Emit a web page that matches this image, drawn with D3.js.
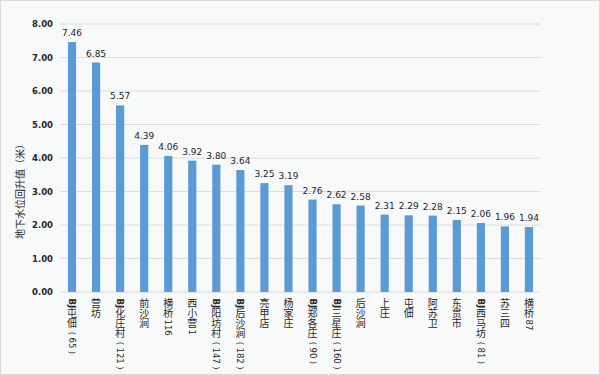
<!DOCTYPE html>
<html>
<head>
<meta charset="utf-8">
<script src="https://cdn.jsdelivr.net/npm/d3@7"></script>
<style>
  body { margin: 0; background: #fff; }
  svg { display: block; font-family: "Noto Sans CJK SC", "DejaVu Sans", sans-serif; }
</style>
</head>
<body>
<div id="chart"></div>
<script>
const sites = ["BJ屯佃（65）", "营坊", "BJ化庄村（121）", "前沙涧", "横桥116", "西小营1", "BJ阳坊村（147）", "BJ后沙涧（182）", "亮甲店", "杨家庄", "BJ郑各庄（90）", "BJ三星庄（160）", "后沙涧", "上庄", "屯佃", "阿苏卫", "东贯市", "BJ西马坊（81）", "苏三四", "横桥87"];
const rises = [7.46, 6.85, 5.57, 4.39, 4.06, 3.92, 3.80, 3.64, 3.25, 3.19, 2.76, 2.62, 2.58, 2.31, 2.29, 2.28, 2.15, 2.06, 1.96, 1.94];
const yTicks = [0, 1, 2, 3, 4, 5, 6, 7, 8];

const width = 600, height = 375;
const margin = { top: 24, right: 59, bottom: 83, left: 60 };

const svg = d3.select("#chart").append("svg")
  .attr("width", width)
  .attr("height", height);

svg.append("rect")
  .attr("x", 0.5).attr("y", 0.5)
  .attr("width", width - 1).attr("height", height - 1)
  .attr("fill", "#f8f9f9")
  .attr("stroke", "#d9d9d9");

const x = d3.scaleBand()
  .domain(sites)
  .range([margin.left, width - margin.right])
  .paddingInner(0.66)
  .paddingOuter(0.33);

const y = d3.scaleLinear()
  .domain([0, 8])
  .range([height - margin.bottom, margin.top]);

// 网格线
svg.append("g")
  .selectAll("line")
  .data(yTicks)
  .join("line")
  .attr("x1", margin.left)
  .attr("x2", width - margin.right)
  .attr("y1", d => y(d))
  .attr("y2", d => y(d))
  .attr("stroke", "#dcdcdc")
  .attr("stroke-width", 1);

// y轴刻度
const yAxis = svg.append("g")
  .attr("transform", `translate(${margin.left},0)`)
  .call(d3.axisLeft(y).tickValues(yTicks).tickFormat(d3.format(".2f")).tickSize(0).tickPadding(7));
yAxis.select(".domain").remove();
yAxis.selectAll("text")
  .attr("font-family", "'DejaVu Sans', sans-serif")
  .attr("font-size", 8.5)
  .attr("font-weight", "bold")
  .attr("fill", "#262626");

// 柱子
svg.append("g")
  .selectAll("rect")
  .data(rises)
  .join("rect")
  .attr("x", (d, i) => x(sites[i]))
  .attr("y", d => y(d))
  .attr("width", x.bandwidth())
  .attr("height", d => y(0) - y(d))
  .attr("fill", "#5b9bd5");

// 数值标签
svg.append("g")
  .selectAll("text")
  .data(rises)
  .join("text")
  .attr("x", (d, i) => x(sites[i]) + x.bandwidth() / 2)
  .attr("y", d => y(d) - 6)
  .attr("text-anchor", "middle")
  .attr("font-family", "'DejaVu Sans', sans-serif")
  .attr("font-size", 9)
  .attr("fill", "#262626")
  .text(d => d.toFixed(2));

// x轴标签（竖排：汉字直立，字母数字旋转）
const cjkSize = 10, latinSize = 8.5;
function tokens(s) {
  return s.match(/[\u4e00-\u9fff]+|[（）]|[^\u4e00-\u9fff（）]+/g);
}
const labels = svg.append("g")
  .selectAll("g")
  .data(sites)
  .join("g")
  .attr("transform", d => `translate(${x(d) + x.bandwidth() / 2},${y(0) + 6})`)
  .attr("fill", "#262626");

labels.each(function (d) {
  const g = d3.select(this);
  let cy = 0;
  for (const t of tokens(d)) {
    if (/[\u4e00-\u9fff]/.test(t)) {
      g.append("text")
        .attr("x", 0)
        .attr("y", cy)
        .style("writing-mode", "vertical-rl")
        .style("text-orientation", "upright")
        .attr("text-anchor", "start")
        .attr("font-size", cjkSize)
        .text(t);
      cy += t.length * cjkSize + 1;
    } else {
      const s = t === "（" ? "(" : t === "）" ? ")" : t;
      const pad = (t === "（" || t === "）") ? 2 : 0.5;
      cy += pad;
      const txt = g.append("text")
        .attr("transform", `translate(0,${cy}) rotate(90)`)
        .attr("dominant-baseline", "central")
        .attr("font-family", "'DejaVu Sans', sans-serif")
        .attr("font-size", latinSize)
        .attr("font-weight", /[A-Z]/.test(s) ? "bold" : null)
        .text(s);
      cy += txt.node().getComputedTextLength() + pad;
    }
  }
});

// y轴标题
svg.append("text")
  .attr("transform", "translate(19,189) rotate(-90)")
  .attr("text-anchor", "middle")
  .attr("dominant-baseline", "central")
  .attr("font-size", 10)
  .attr("fill", "#262626")
  .text("地下水位回升值（米）");
</script>
</body>
</html>
